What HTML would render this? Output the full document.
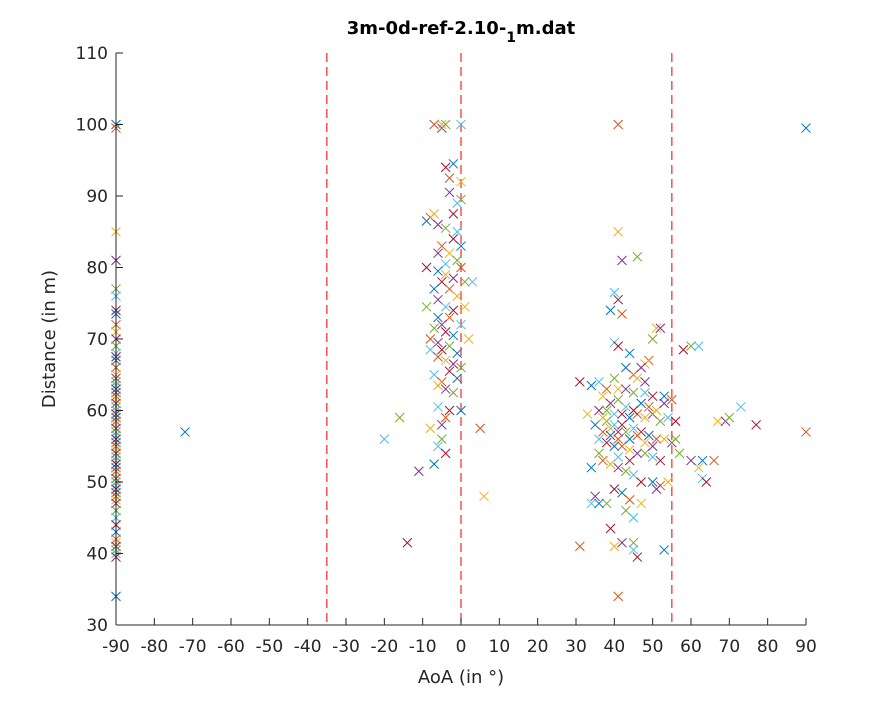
<!DOCTYPE html>
<html><head><meta charset="utf-8"><style>
body{margin:0;background:#fff;}
svg{font-family:"DejaVu Sans","Liberation Sans",sans-serif;}
</style></head><body>
<svg id="chart" width="891" height="703" xmlns="http://www.w3.org/2000/svg">
<rect width="891" height="703" fill="#fff"/>
<text x="461" y="34" text-anchor="middle" font-size="18" font-weight="bold" fill="#000">3m-0d-ref-2.10-<tspan baseline-shift="sub" font-size="14">1</tspan>m.dat</text>
<g id="grid"></g>
<g id="marks"></g>
<g id="axes"></g>
<text x="461" y="683" text-anchor="middle" font-size="18" fill="#262626">AoA (in °)</text>
<text transform="translate(55,339) rotate(-90)" text-anchor="middle" font-size="18" fill="#262626">Distance (in m)</text>
</svg>
<script>
const xTicks=[-90,-80,-70,-60,-50,-40,-30,-20,-10,0,10,20,30,40,50,60,70,80,90];
const yTicks=[30,40,50,60,70,80,90,100,110];
const refLines=[-35,0,55];
const leftDist=[100,99.5,85,81,77,76,74,73.5,72,71,70,69,68,67.5,67,66,65,64.5,64,63.5,63,62.5,62,61.5,61,60.5,60,59.5,59,58.5,58,57.5,57,56.5,56,55.5,55,54.5,54,53.5,53,52.5,52,51.5,51,50.5,50,49.5,49,48.5,48,47.5,47,46,45,44,43,42,41.5,41,40.5,40,39.5,34];
const midAoa=[-7,-5,-5,-4,0,-4,-2,-3,0,-3,0,-1,-2,-9,-8,-7,-6,-4,-1,-2,0,-5,-3,-6,-1,-4,-9,-6,0,-4,-2,1,3,-5,-7,-3,-1,-6,-9,-4,-2,-6,-3,1,-5,-7,0,-4,-2,-8,2,-6,-3,-8,-5,-1,-6,-4,-2,0,-7,-3,-1,-5,-6,-4,-2,-6,-3,0,-4,-8,-5,-5,-6,-4,-7,5,6,-11,-16,-20,-14,-72];
const midDist=[100,100,99.5,100,100,94,94.5,92.5,92,90.5,89.5,89,87.5,86.5,87,87.5,86,85.5,85,84,83,83,82,82,81,80.5,80,79.5,80,79,78.5,78,78,78,77,77,76,75.5,74.5,74.5,74,73,73,74.5,72,71.5,72,71,70.5,70,70,69.5,69,68.5,68.5,68,67.5,67,66.5,66,65,65.5,64.5,64,63.5,63,62.5,60.5,60,60,59,57.5,58,56,55,54,52.5,57.5,48,51.5,59,56,41.5,57];
const rightAoa=[41,41,42,46,40,41,39,42,51,52,50,40,41,44,49,48,47,60,62,58,43,45,46,48,40,36,31,34,38,41,43,45,48,50,53,55,33,36,38,40,42,44,46,48,50,52,54,56,35,37,39,41,43,45,47,49,51,53,55,56,36,38,40,42,44,46,48,50,52,34,37,39,41,43,45,47,50,52,54,35,38,34,40,42,44,47,51,43,45,39,36,31,40,42,45,45,46,53,41,67,69,70,73,77,63,66,62,60,57,63,64,90,90,37,39,41,43,45,47,49,51,53,38,40,42,44,46,48,50,36,41,44,39,41,37];
const rightDist=[100,85,81,81.5,76.5,75.5,74,73.5,71.5,71.5,70,69.5,69,68,67,66.5,66,69,69,68.5,66,65,64.5,64,64.5,64,64,63.5,63,63,63,62.5,62.5,62,62,61.5,59.5,60,60,59.5,59.5,59,59.5,59,59.5,58.5,59,58.5,58,57,57.5,57,57,57.5,57,56.5,56,56,55.5,56,56,55.5,55,55,54.5,54,54,53.5,53,52,53,52.5,52,51.5,51,50,50,49.5,50,48,47,47,49,48.5,47.5,47,49,46,45,43.5,47,41,41,41.5,41.5,40.5,39.5,40.5,34,58.5,58.5,59,60.5,58,53,53,52,53,54,50.5,50,99.5,57,62,61,61.5,60.5,60,61,60.5,60,61,58.5,58,58,56,56.5,55.5,55,54,53.5,53,56.5,56,59];
const colors=["#0072BD","#D95319","#EDB120","#7E2F8E","#77AC30","#4DBEEE","#A2142F"];
const NS="http://www.w3.org/2000/svg";
const X0=116,X1=806,Y0=625,Y1=53;
function sx(v){return X0+(v+90)/180*(X1-X0);}
function sy(v){return Y0-(v-30)/80*(Y0-Y1);}
function mk(tag,attrs,parent){const e=document.createElementNS(NS,tag);for(const k in attrs)e.setAttribute(k,attrs[k]);parent.appendChild(e);return e;}
const axes=document.getElementById('axes'),marks=document.getElementById('marks'),grid=document.getElementById('grid');
refLines.forEach(v=>{const l=mk('line',{x1:sx(v),x2:sx(v),y1:Y1,y2:Y0,stroke:'#FF3333','stroke-width':1.3,'stroke-dasharray':'9,5'},grid);

});
let ax=mk('line',{x1:X0,x2:X1,y1:Y0,y2:Y0,stroke:'#262626','stroke-width':1},axes);


let ay=mk('line',{x1:X0,x2:X0,y1:Y0,y2:Y1,stroke:'#262626','stroke-width':1},axes);


xTicks.forEach(v=>{mk('line',{x1:sx(v),x2:sx(v),y1:Y0,y2:Y0-7,stroke:'#262626'},axes);
const t=mk('text',{x:sx(v),y:Y0+27,'text-anchor':'middle','font-size':17,fill:'#262626'},axes);t.textContent=v;

});
yTicks.forEach(v=>{mk('line',{x1:X0,x2:X0+7,y1:sy(v),y2:sy(v),stroke:'#262626'},axes);
const t=mk('text',{x:X0-8,y:sy(v)+6,'text-anchor':'end','font-size':17,fill:'#262626'},axes);t.textContent=v;

});
const pts=[];
leftDist.forEach(d=>pts.push([-90,d]));
midAoa.forEach((a,i)=>pts.push([a,midDist[i]]));
rightAoa.forEach((a,i)=>pts.push([a,rightDist[i]]));
pts.forEach((p,i)=>{const x=sx(p[0]),y=sy(p[1]),s=4.5,c=colors[i%7];
const g=mk('path',{d:`M${x-s},${y-s}L${x+s},${y+s}M${x-s},${y+s}L${x+s},${y-s}`,stroke:c,'stroke-width':1,fill:'none'},marks);

});
</script>
</body></html>
